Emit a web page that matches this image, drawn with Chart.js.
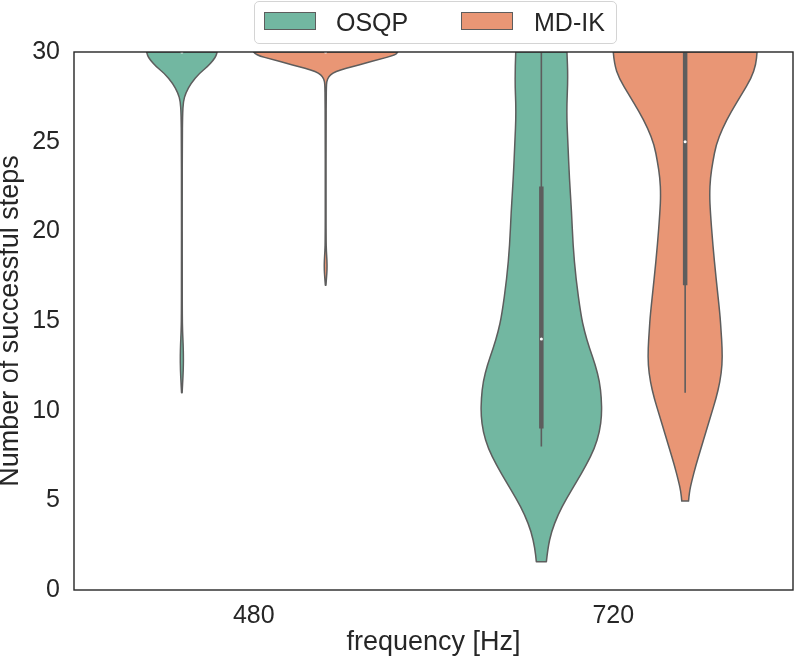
<!DOCTYPE html>
<html>
<head>
<meta charset="utf-8">
<title>Successful steps · violin</title>
<script src="https://cdn.jsdelivr.net/npm/chart.js@4.4.1/dist/chart.umd.min.js"></script>
<style>
    body { margin: 0; background: #fff; }
    #wrap { position: relative; width: 797px; height: 660px; }
    #legend {
        position: absolute; left: 254px; top: 1px; width: 361px; height: 41px;
        border: 1px solid #d4d4d4; border-radius: 5px; background: rgba(255,255,255,0.8);
        font-family: "Liberation Sans", Arial, sans-serif; font-size: 25px; color: #262626;
    }
    #legend .patch { position: absolute; top: 10px; width: 50px; height: 16px; border: 1px solid #5d5d5d; }
    #legend .lbl { position: absolute; top: 6px; line-height: 28px; }
</style>
</head>
<body>
<div id="wrap">
    <canvas id="violin" width="797" height="660"></canvas>
    <div id="legend"></div>
</div>
<script>
// categories and series
var categories = ['480', '720'];
var seriesNames = ['OSQP', 'MD-IK'];
var yTicks = [0, 5, 10, 15, 20, 25, 30];

// violin outlines: value levels and half width (1 = widest violin)
var osqp480Y = [11.0, 11.6, 12.3, 13.0, 13.7, 14.4, 15.2, 18, 22, 25, 26.5, 27.24, 27.7, 28.26, 28.81, 29.18, 29.56, 29.8, 30];
var osqp480W = [0.004, 0.012, 0.02, 0.022, 0.018, 0.01, 0.006, 0.005, 0.005, 0.006, 0.01, 0.02, 0.053, 0.128, 0.243, 0.358, 0.44, 0.478, 0.49];
var mdik480Y = [17.0, 17.4, 17.9, 18.4, 18.9, 19.5, 22, 26, 27.5, 28.0, 28.35, 28.63, 28.82, 29.0, 29.19, 29.37, 29.56, 29.84, 30];
var mdik480W = [0.004, 0.012, 0.02, 0.018, 0.01, 0.006, 0.005, 0.006, 0.008, 0.01, 0.014, 0.042, 0.097, 0.2, 0.375, 0.546, 0.72, 0.976, 1.0];
var osqp720Y = [1.58, 2.33, 3.25, 4.18, 5.11, 6.04, 6.97, 7.9, 8.83, 9.76, 10.7, 11.62, 12.55, 13.48, 14.41, 15.34, 17.38, 19.24, 21.1, 22.96, 24.82, 26.68, 28.54, 30];
var osqp720W = [0.07, 0.09, 0.14, 0.23, 0.35, 0.49, 0.625, 0.74, 0.81, 0.84, 0.835, 0.81, 0.75, 0.67, 0.6, 0.55, 0.48, 0.44, 0.42, 0.39, 0.37, 0.35, 0.37, 0.356];
var mdik720Y = [4.96, 5.48, 6.04, 6.97, 7.9, 8.83, 9.76, 10.69, 11.62, 12.55, 13.48, 14.41, 15.34, 17.38, 19.24, 21.1, 22.03, 22.96, 23.89, 24.82, 25.75, 26.68, 27.6, 28.54, 29.32, 30];
var mdik720W = [0.047, 0.06, 0.09, 0.15, 0.22, 0.29, 0.36, 0.43, 0.485, 0.515, 0.515, 0.5, 0.485, 0.43, 0.385, 0.35, 0.34, 0.35, 0.385, 0.43, 0.52, 0.64, 0.78, 0.92, 0.985, 1.0];

// inner box stats per category (480, 720)
var osqpQ1 = [30, 9];
var osqpMedian = [30, 14];
var osqpQ3 = [30, 22.5];
var osqpLow = [30, 8];
var osqpHigh = [30, 30];
var mdikQ1 = [30, 17];
var mdikMedian = [30, 25];
var mdikQ3 = [30, 30];
var mdikLow = [30, 11];
var mdikHigh = [30, 30];

var colors = ['#72b7a1', '#e99675'];
var outline = '#5d5d5d';
var ink = '#262626';
var dodge = 0.2;      // hue offset from the category centre
var maxHalf = 0.2;    // half width of the widest violin, in category units

function violinData(center, ys, ws) {
    var pts = [];
    for (var i = 0; i < ys.length; i++) pts.push({x: center + ws[i] * maxHalf, y: ys[i]});
    for (var j = ys.length - 1; j >= 0; j--) pts.push({x: center - ws[j] * maxHalf, y: ys[j]});
    return pts;
}

var outlines = [
    [0, 0, osqp480Y, osqp480W], [0, 1, mdik480Y, mdik480W],
    [1, 0, osqp720Y, osqp720W], [1, 1, mdik720Y, mdik720W]
];
var stats = [
    {q1: osqpQ1, med: osqpMedian, q3: osqpQ3, lo: osqpLow, hi: osqpHigh},
    {q1: mdikQ1, med: mdikMedian, q3: mdikQ3, lo: mdikLow, hi: mdikHigh}
];

var datasets = [];
outlines.forEach(function(o) {
    var c = o[0] + (o[1] === 0 ? -dodge : dodge);
    datasets.push({
        label: seriesNames[o[1]] + ' ' + categories[o[0]],
        data: violinData(c, o[2], o[3]),
        violinSide: o[2].length,
        violinFill: colors[o[1]],
        pointRadius: 0, showLine: false, order: 5
    });
});
stats.forEach(function(s, h) {
    categories.forEach(function(cat, k) {
        var c = k + (h === 0 ? -dodge : dodge);
        datasets.push({ data: [{x: c, y: s.lo[k]}, {x: c, y: s.hi[k]}], showLine: true,
            borderColor: outline, borderWidth: 1.6, pointRadius: 0, order: 3 });
        datasets.push({ data: [{x: c, y: s.q1[k]}, {x: c, y: s.q3[k]}], showLine: true,
            borderColor: outline, borderWidth: 4.5, borderCapStyle: 'butt', pointRadius: 0, order: 2 });
        datasets.push({ data: [{x: c, y: s.med[k]}], pointRadius: 1.5, pointBackgroundColor: '#ffffff',
            pointBorderWidth: 0, order: 1 });
    });
});

function curve(ctx, p, first) {
    if (first) ctx.moveTo(p[0].x, p[0].y); else ctx.lineTo(p[0].x, p[0].y);
    for (var i = 1; i < p.length - 1; i++) {
        ctx.quadraticCurveTo(p[i].x, p[i].y, (p[i].x + p[i + 1].x) / 2, (p[i].y + p[i + 1].y) / 2);
    }
    ctx.lineTo(p[p.length - 1].x, p[p.length - 1].y);
}

var violinPlugin = {
    id: 'violins',
    beforeDatasetsDraw: function(chart) {
        var ctx = chart.ctx, a = chart.chartArea;
        ctx.save();
        ctx.beginPath();
        ctx.rect(a.left, a.top, a.right - a.left, a.bottom - a.top);
        ctx.clip();
        chart.data.datasets.forEach(function(ds, i) {
            if (!ds.violinSide) return;
            var pts = chart.getDatasetMeta(i).data.map(function(p) { return {x: p.x, y: p.y}; });
            ctx.beginPath();
            curve(ctx, pts.slice(0, ds.violinSide), true);
            curve(ctx, pts.slice(ds.violinSide), false);
            ctx.closePath();
            ctx.fillStyle = ds.violinFill;
            ctx.fill();
            ctx.lineWidth = 1.5;
            ctx.lineJoin = 'round';
            ctx.strokeStyle = outline;
            ctx.stroke();
        });
        ctx.restore();
    },
    afterDraw: function(chart) {
        var ctx = chart.ctx, a = chart.chartArea;
        ctx.save();
        ctx.strokeStyle = ink;
        ctx.lineWidth = 1.4;
        ctx.strokeRect(a.left, a.top, a.right - a.left, a.bottom - a.top);
        ctx.restore();
    }
};

Chart.defaults.font.family = '"Liberation Sans", Arial, sans-serif';
Chart.defaults.color = ink;

new Chart(document.getElementById('violin'), {
    type: 'scatter',
    data: { datasets: datasets },
    plugins: [violinPlugin],
    options: {
        responsive: false,
        animation: false,
        layout: { padding: { top: 52, right: 2, left: 0, bottom: 0 } },
        plugins: { legend: { display: false }, tooltip: { enabled: false } },
        scales: {
            x: {
                type: 'linear', min: -0.5, max: 1.5,
                grid: { display: false, drawTicks: false },
                border: { display: false },
                afterBuildTicks: function(scale) { scale.ticks = [{value: 0}, {value: 1}]; },
                afterFit: function(scale) { scale.height = 70; },
                ticks: { font: { size: 25 }, padding: 11, callback: function(v) { return categories[v]; } },
                title: { display: true, text: 'frequency [Hz]', font: { size: 27, lineHeight: 1 }, padding: { top: 0, bottom: 4 } }
            },
            y: {
                min: 0, max: 30,
                grid: { display: false, drawTicks: false },
                border: { display: false },
                afterBuildTicks: function(scale) { scale.ticks = yTicks.map(function(v) { return {value: v}; }); },
                afterFit: function(scale) { scale.width = 74; },
                ticks: { font: { size: 25 }, padding: 14 },
                title: { display: true, text: 'Number of successful steps', font: { size: 27, lineHeight: 0.8 }, padding: { top: 0, bottom: 0 } }
            }
        }
    }
});

// legend box
var legend = document.getElementById('legend');
var legendX = [[9, 81], [206, 279]];
seriesNames.forEach(function(name, i) {
    var p = document.createElement('span');
    p.className = 'patch';
    p.style.left = legendX[i][0] + 'px';
    p.style.background = colors[i];
    legend.appendChild(p);
    var t = document.createElement('span');
    t.className = 'lbl';
    t.style.left = legendX[i][1] + 'px';
    t.textContent = name;
    legend.appendChild(t);
});
</script>
</body>
</html>
